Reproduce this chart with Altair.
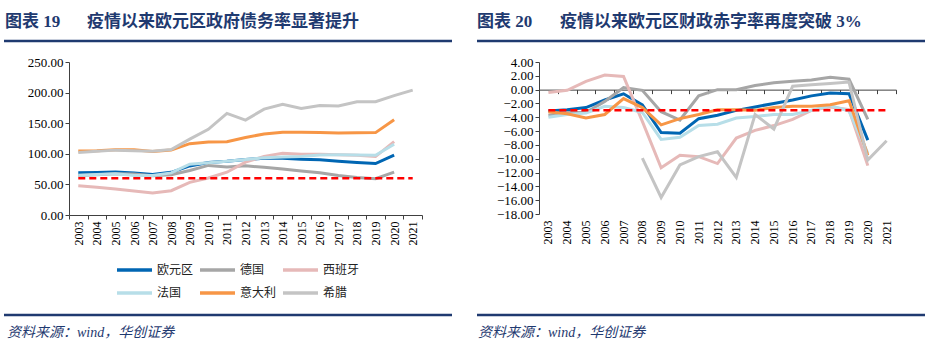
import altair as alt
import pandas as pd

years = [str(y) for y in range(2003, 2022)]
series_names = ["欧元区", "德国", "西班牙", "法国", "意大利", "希腊"]
series_colors = ["#0066B3", "#A6A6A6", "#E6B9B8", "#B7DEE8", "#F79646", "#C4C4C4"]

# Government debt, % of GDP (left panel)
debt_euro = [69.0, 69.6, 70.3, 68.6, 66.0, 69.7, 80.2, 85.7, 87.7, 90.7, 92.6, 92.8, 90.9, 90.1, 87.7, 85.8, 84.0, 98.0, None]
debt_germany = [64.4, 65.7, 67.5, 66.9, 64.2, 65.7, 72.6, 81.0, 78.6, 80.4, 77.9, 75.3, 71.9, 69.0, 64.6, 61.3, 59.2, 70.0, None]
debt_spain = [47.7, 45.4, 42.4, 39.1, 35.8, 39.7, 53.3, 60.5, 69.9, 86.3, 95.8, 100.7, 99.3, 99.2, 98.6, 97.6, 95.5, 120.0, None]
debt_france = [64.8, 66.2, 67.4, 64.6, 64.5, 68.8, 83.0, 85.3, 87.8, 90.6, 93.4, 94.9, 95.6, 98.0, 98.3, 98.0, 97.6, 115.7, None]
debt_italy = [104.7, 105.0, 106.6, 106.7, 103.9, 106.2, 116.6, 119.2, 119.7, 126.5, 132.5, 135.4, 135.3, 134.8, 134.1, 134.4, 134.6, 155.8, None]
debt_greece = [102.0, 104.0, 106.0, 105.0, 104.0, 107.0, 124.0, 140.0, 166.0, 155.0, 173.0, 181.0, 174.0, 179.0, 178.0, 185.0, 185.0, 195.0, 204.0]
debt_limit = [60.0] * len(years)

# Budget balance, % of GDP (right panel)
def_euro = [-3.1, -2.9, -2.6, -1.5, -0.6, -2.2, -6.2, -6.3, -4.2, -3.7, -3.0, -2.5, -2.0, -1.5, -0.9, -0.5, -0.6, -7.3, None]
def_germany = [-3.7, -3.3, -3.3, -1.7, 0.3, -0.1, -3.2, -4.4, -0.9, 0.0, 0.0, 0.6, 1.0, 1.2, 1.4, 1.8, 1.5, -4.3, None]
def_spain = [-0.4, -0.1, 1.2, 2.1, 1.9, -4.6, -11.3, -9.5, -9.7, -10.7, -7.0, -5.9, -5.2, -4.3, -3.0, -2.5, -2.9, -11.0, None]
def_france = [-4.0, -3.6, -3.4, -2.4, -2.6, -3.3, -7.2, -6.9, -5.2, -5.0, -4.1, -3.9, -3.6, -3.6, -3.0, -2.3, -3.1, -9.2, None]
def_italy = [-3.2, -3.5, -4.1, -3.6, -1.3, -2.6, -5.1, -4.2, -3.6, -2.9, -2.9, -3.0, -2.6, -2.4, -2.4, -2.2, -1.6, -9.5, None]
def_greece = [None, None, None, None, None, -9.9, -15.6, -10.9, -9.7, -9.0, -12.7, -3.6, -5.7, 0.5, 0.7, 0.9, 1.1, -10.2, -7.4]
def_limit = [-3.0] * len(years)

titles = [("图表 19", "疫情以来欧元区政府债务率显著提升"),
          ("图表 20", "疫情以来欧元区财政赤字率再度突破 3%")]
source_text = "资料来源：wind，华创证券"


def to_long(cols):
    rows = []
    for name, vals in zip(series_names, cols):
        for yr, v in zip(years, vals):
            if v is not None:
                rows.append({"year": yr, "series": name, "value": v})
    return pd.DataFrame(rows)


debt_df = to_long([debt_euro, debt_germany, debt_spain, debt_france, debt_italy, debt_greece])
def_df = to_long([def_euro, def_germany, def_spain, def_france, def_italy, def_greece])
debt_thr = pd.DataFrame({"year": years, "value": debt_limit})
def_thr = pd.DataFrame({"year": years, "value": def_limit})
one = pd.DataFrame({"k": [0]})

NUMF = "Liberation Serif"
CJK = "Liberation Serif, Noto Sans CJK SC"
NAVY = "#1F3A70"
AXC = "#404040"


def xscale():
    return alt.Scale(type="band", domain=years, paddingInner=0, paddingOuter=0)


def color_enc(lx, ly):
    return alt.Color(
        "series:N",
        scale=alt.Scale(domain=series_names, range=series_colors),
        legend=alt.Legend(orient="none", legendX=lx, legendY=ly, columns=3, direction="horizontal",
                          title=None, symbolType="stroke", symbolSize=1225, symbolStrokeWidth=3.5,
                          clipHeight=12,
                          labelFont="Noto Sans CJK SC", labelFontSize=12, labelColor="#222222",
                          labelOffset=3, columnPadding=4, rowPadding=11, gridAlign="all",
                          padding=0),
    )


def decorations(pl, ox, oy, title, num_x, text_x, line_x1, line_x2, src_x):
    frame = alt.Chart(one).mark_rect(opacity=0).encode(
        x=alt.value(pl - ox), x2=alt.value(pl + 467 - ox),
        y=alt.value(-oy), y2=alt.value(353 - oy))
    t1 = alt.Chart(one).mark_text(text=title[0], font=CJK, fontSize=17, fontWeight="bold",
                                  color=NAVY, align="left", baseline="middle").encode(
        x=alt.value(num_x - ox), y=alt.value(22 - oy))
    t2 = alt.Chart(one).mark_text(text=title[1], font=CJK, fontSize=17, fontWeight="bold",
                                  color=NAVY, align="left", baseline="middle").encode(
        x=alt.value(text_x - ox), y=alt.value(22 - oy))
    ul = alt.Chart(one).mark_rule(color=NAVY, strokeWidth=2.5).encode(
        x=alt.value(line_x1 - ox), x2=alt.value(line_x2 - ox), y=alt.value(41 - oy))
    bl = alt.Chart(one).mark_rule(color=NAVY, strokeWidth=2.5).encode(
        x=alt.value(line_x1 - ox), x2=alt.value(line_x2 - ox), y=alt.value(315 - oy))
    src = alt.Chart(one).mark_text(text=source_text, font=CJK, fontSize=14, fontStyle="italic",
                                   color=NAVY, align="left", baseline="middle").encode(
        x=alt.value(src_x - ox), y=alt.value(333 - oy))
    return [frame, t1, t2, ul, bl, src]


# ---------- Left panel ----------
W1, H1 = 353, 153
OX1, OY1 = 69, 62
x_left = alt.X("year:O", scale=xscale(), bandPosition=0.5,
               axis=alt.Axis(title=None, labelAngle=-90, tickBand="extent", labelOverlap=False,
                             labelFont=NUMF, labelFontSize=12, labelColor="#000000",
                             tickSize=4, labelPadding=2, domainColor=AXC, tickColor=AXC))
y_left = alt.Y("value:Q", scale=alt.Scale(domain=[0, 250], nice=False),
               axis=alt.Axis(title=None, values=[0, 50, 100, 150, 200, 250], format=".2f", grid=False,
                             labelFont=NUMF, labelFontSize=13, labelColor="#000000",
                             tickSize=4, labelPadding=2, domainColor=AXC, tickColor=AXC))
left_lines = alt.Chart(debt_df).mark_line(strokeWidth=3).encode(
    x=x_left, y=y_left, color=color_enc(115 - OX1, 264 - OY1))
left_thr = alt.Chart(debt_thr).mark_line(color="#FF0000", strokeWidth=2.5, strokeDash=[7, 4]).encode(
    x=x_left, y=y_left)
left = alt.layer(
    *decorations(0, OX1, OY1, titles[0], 5, 87, 4, 452, 7), left_lines, left_thr
).properties(width=W1, height=H1)

# ---------- Right panel ----------
W2, H2 = 357, 152
OX2, OY2 = 539, 62
zero_offset = -(H2 - H2 * 4 / 22)
y_right = alt.Y("value:Q", scale=alt.Scale(domain=[-18, 4], nice=False),
                axis=alt.Axis(title=None, values=list(range(-18, 5, 2)), format=".2f", grid=False,
                              labelFont=NUMF, labelFontSize=13, labelColor="#000000",
                              tickSize=4, labelPadding=2, domainColor=AXC, tickColor=AXC))
x_right_labels = alt.X("year:O", scale=xscale(), bandPosition=0.5,
                       axis=alt.Axis(title=None, orient="bottom", labelAngle=-90, labelOverlap=False,
                                     domain=False, ticks=False, tickSize=0, labelPadding=6,
                                     labelFont=NUMF, labelFontSize=12, labelColor="#000000"))
x_right_zero = alt.X("year:O", scale=xscale(), bandPosition=0.5,
                     axis=alt.Axis(title=None, orient="bottom", labels=False, tickBand="extent",
                                   offset=zero_offset, tickSize=4, domainColor=AXC, tickColor=AXC))
right_lines = alt.Chart(def_df).mark_line(strokeWidth=3).encode(
    x=x_right_labels, y=y_right, color=color_enc(587 - OX2, 264 - OY2))
right_thr = alt.Chart(def_thr).mark_line(color="#FF0000", strokeWidth=2.5, strokeDash=[7, 4]).encode(
    x=x_right_zero, y=y_right)
right = alt.layer(
    *decorations(467, OX2, OY2, titles[1], 477, 560, 477, 925, 478), right_lines, right_thr
).resolve_scale(x="independent").properties(width=W2, height=H2)

chart = alt.hconcat(left, right, spacing=0).properties(
    padding=0, background="white"
).configure_view(strokeWidth=0)

chart.save("out.html", embed_options={"renderer": "svg", "actions": False})
